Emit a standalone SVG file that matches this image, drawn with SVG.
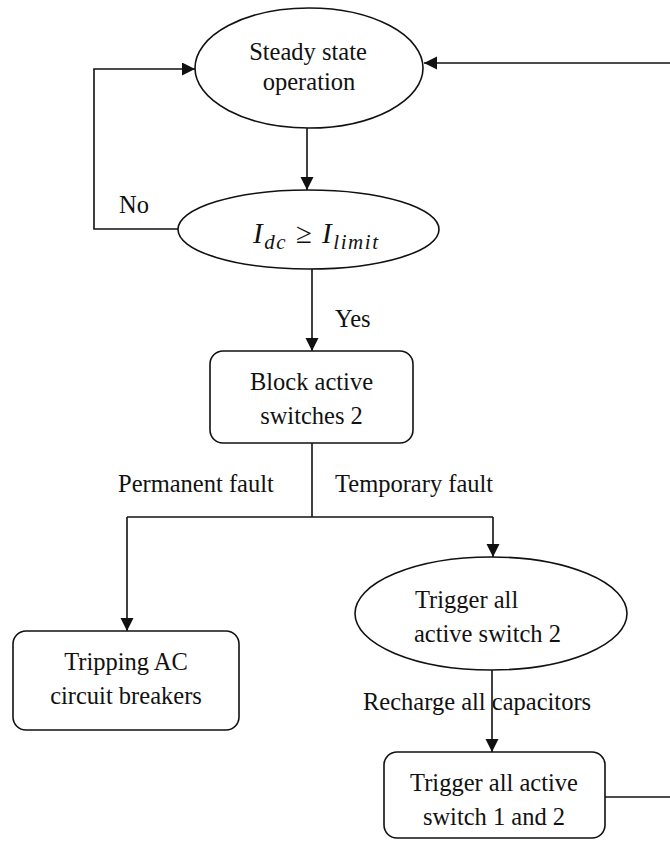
<svg xmlns="http://www.w3.org/2000/svg" width="670" height="841" viewBox="0 0 670 841">
  <style>
    .shape { fill: #ffffff; stroke: #111111; stroke-width: 1.6; }
    .wire { fill: none; stroke: #111111; stroke-width: 1.6; }
    .arrow { marker-end: url(#head); }
    text { font-family: "Liberation Serif", "Times New Roman", serif; font-size: 24.5px; fill: #111111; }
    .mid { text-anchor: middle; }
    .math { font-style: italic; font-size: 29px; }
    .sub { font-size: 21px; }
  </style>
  <defs>
    <marker id="head" markerUnits="userSpaceOnUse" markerWidth="14" markerHeight="14" refX="13" refY="6.5" orient="auto">
      <path d="M0,0 L13,6.5 L0,13 Z" fill="#111111"/>
    </marker>
  </defs>
  <rect width="670" height="841" fill="#ffffff"/>

  <!-- connectors -->
  <g id="connectors">
    <path class="wire arrow" d="M670,63 L424,63"/>
    <path class="wire arrow" d="M178,229 L94,229 L94,69 L195,69"/>
    <path class="wire arrow" d="M307,128 L307,190"/>
    <path class="wire arrow" d="M312,269 L312,351"/>
    <path class="wire" d="M312,443 L312,517"/>
    <path class="wire" d="M127,517 L493,517"/>
    <path class="wire arrow" d="M127,517 L127,631"/>
    <path class="wire arrow" d="M493,517 L493,557"/>
    <path class="wire arrow" d="M492,670 L492,752"/>
    <path class="wire" d="M605,797 L670,797"/>
    <text x="119" y="213">No</text>
    <text x="335" y="327">Yes</text>
    <text x="118" y="492">Permanent fault</text>
    <text x="335" y="492">Temporary fault</text>
    <text x="363" y="710">Recharge all capacitors</text>
  </g>

  <!-- nodes -->
  <g id="steady-state">
    <ellipse class="shape" cx="309" cy="68" rx="114" ry="60"/>
    <text class="mid" x="308" y="60">Steady state</text>
    <text class="mid" x="309" y="90">operation</text>
  </g>

  <g id="current-check">
    <ellipse class="shape" cx="308.5" cy="229.5" rx="130.5" ry="39.5"/>
    <text class="math" x="253" y="243" textLength="125" lengthAdjust="spacing">I<tspan class="sub" dy="6">dc</tspan><tspan font-style="normal" dy="-6"> ≥ </tspan>I<tspan class="sub" dy="6">limit</tspan></text>
  </g>

  <g id="block-switches">
    <rect class="shape" x="210" y="351" width="203" height="92" rx="13"/>
    <text class="mid" x="311.5" y="390">Block active</text>
    <text class="mid" x="311.5" y="424">switches 2</text>
  </g>

  <g id="trip-breakers">
    <rect class="shape" x="13" y="631" width="226" height="99" rx="13"/>
    <text class="mid" x="126" y="670">Tripping AC</text>
    <text class="mid" x="126" y="704">circuit breakers</text>
  </g>

  <g id="trigger-switch-2">
    <ellipse class="shape" cx="491" cy="613.5" rx="136" ry="56.5"/>
    <text x="415" y="608">Trigger all</text>
    <text x="414" y="642">active switch 2</text>
  </g>

  <g id="trigger-switch-1-2">
    <rect class="shape" x="384" y="752" width="221" height="86" rx="13"/>
    <text class="mid" x="494" y="791">Trigger all active</text>
    <text class="mid" x="494" y="825">switch 1 and 2</text>
  </g>
</svg>
